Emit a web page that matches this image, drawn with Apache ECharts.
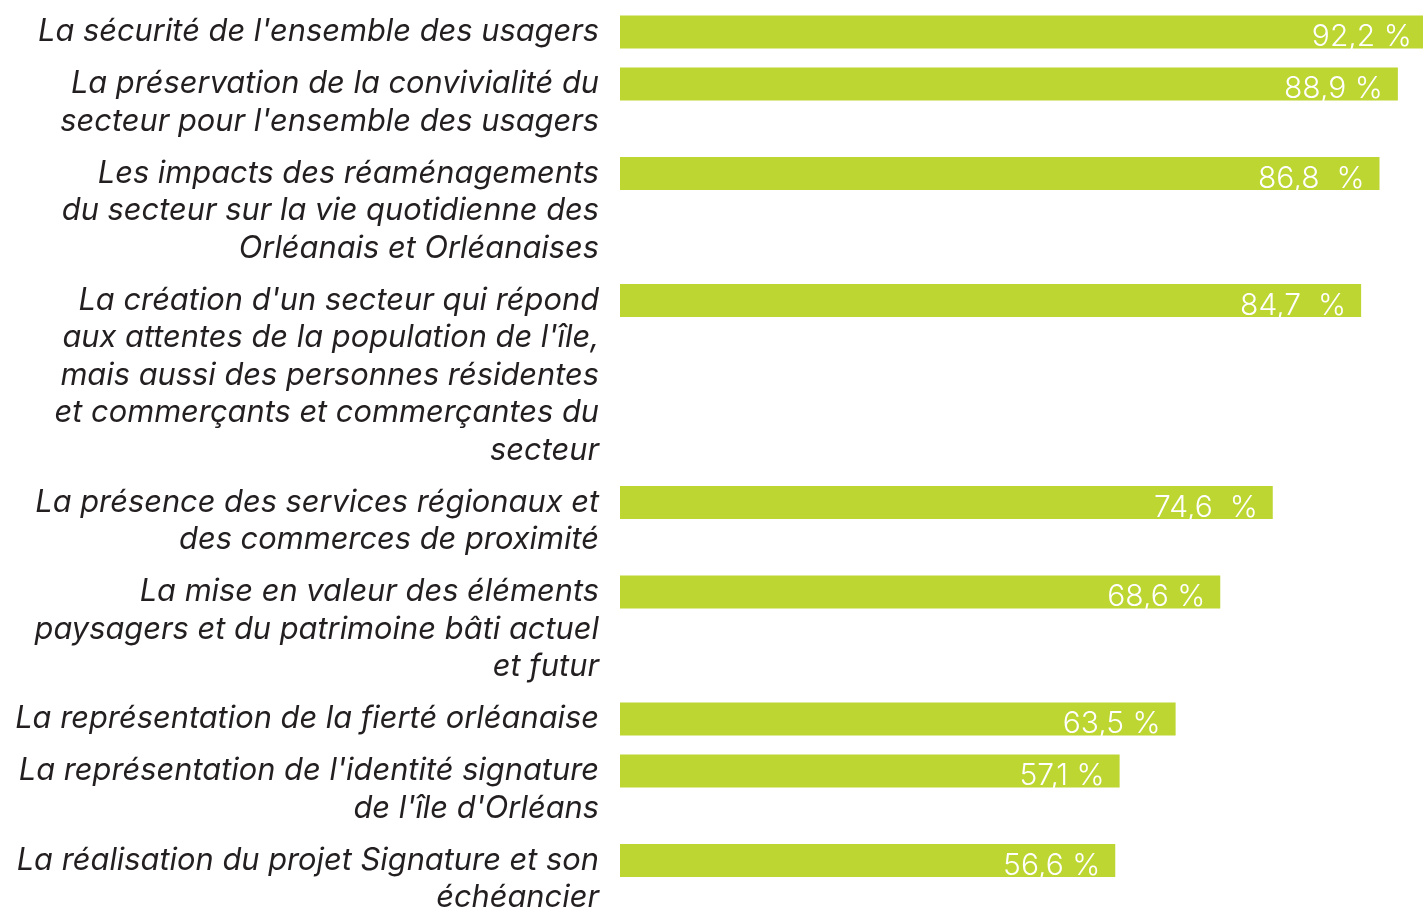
<!DOCTYPE html>
<html>
<head>
<meta charset="utf-8">
<script src="https://cdn.jsdelivr.net/npm/echarts@6/dist/echarts.min.js"></script>
<style>
  html, body { margin: 0; padding: 0; background: #ffffff; }
  #chart { width: 1423px; height: 909px; }
</style>
</head>
<body>
<div id="chart"></div>
<script>
// ---- data ----
var categories = [
  "La sécurité de l'ensemble des usagers",
  "La préservation de la convivialité du\nsecteur pour l'ensemble des usagers",
  "Les impacts des réaménagements\ndu secteur sur la vie quotidienne des\nOrléanais et Orléanaises",
  "La création d'un secteur qui répond\naux attentes de la population de l'île,\nmais aussi des personnes résidentes\net commerçants et commerçantes du\nsecteur",
  "La présence des services régionaux et\ndes commerces de proximité",
  "La mise en valeur des éléments\npaysagers et du patrimoine bâti actuel\net futur",
  "La représentation de la fierté orléanaise",
  "La représentation de l'identité signature\nde l'île d'Orléans",
  "La réalisation du projet Signature et son\néchéancier"
];
var values = [92.2, 88.9, 86.8, 84.7, 74.6, 68.6, 63.5, 57.1, 56.6];
var valueLabels = ["92,2 %", "88,9 %", "86,8  %", "84,7  %", "74,6  %", "68,6 %", "63,5 %", "57,1 %", "56,6 %"];

// ---- layout ----
var LINE_H = 37.5;
var ITEM_GAP = 14.5;
var FIRST_TOP = 13.25;
var GRID_LEFT = 620;
var GRID_WIDTH = 875;

var chart = echarts.init(document.getElementById('chart'), null, { renderer: 'canvas' });

var grids = [], xAxes = [], yAxes = [], series = [];
var curTop = FIRST_TOP;
categories.forEach(function (cat, i) {
  var lines = cat.split('\n');
  var h = lines.length * LINE_H;
  grids.push({
    left: GRID_LEFT, width: GRID_WIDTH, top: curTop, height: h,
    containLabel: false, outerBoundsMode: 'none'
  });
  xAxes.push({
    gridIndex: i, type: 'value', min: 0, max: 100, show: false
  });
  yAxes.push({
    gridIndex: i, type: 'category', inverse: true, data: lines,
    axisLine: { show: false }, axisTick: { show: false }, splitLine: { show: false },
    axisLabel: {
      interval: 0, margin: 21, align: 'right',
      fontFamily: 'Inter', fontStyle: 'italic', fontSize: 30.8,
      color: '#231f20'
    }
  });
  var d = lines.map(function (l, k) { return k === 0 ? values[i] : '-'; });
  series.push({
    type: 'bar', xAxisIndex: i, yAxisIndex: i, data: d, barWidth: 33,
    itemStyle: { color: '#bdd632' },
    silent: true, clip: false,
    label: {
      show: true, position: 'insideRight', distance: 15, offset: [0, 5],
      color: '#ffffff', fontFamily: 'Inter', fontWeight: 300, fontSize: 30,
      formatter: (function (idx) { return function () { return valueLabels[idx]; }; })(i)
    }
  });
  curTop += h + ITEM_GAP;
});

chart.setOption({
  animation: false,
  backgroundColor: '#ffffff',
  grid: grids, xAxis: xAxes, yAxis: yAxes, series: series
});
</script>
</body>
</html>
